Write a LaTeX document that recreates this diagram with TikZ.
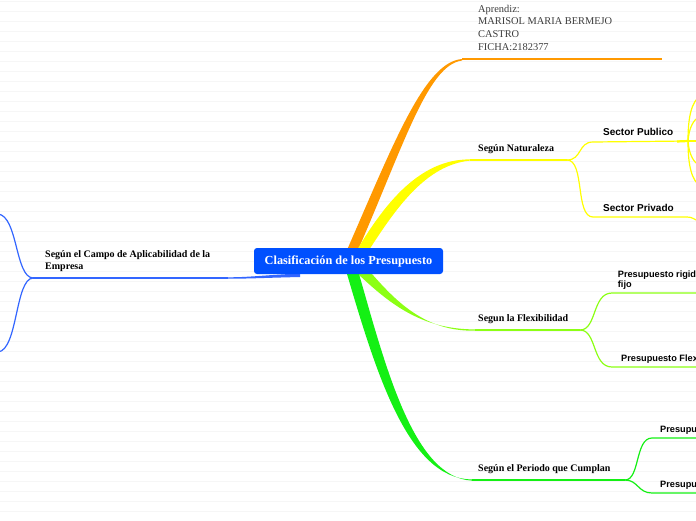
\documentclass[tikz,border=0pt]{standalone}
\usepackage{fontspec}
\setmainfont{Liberation Serif}
\setsansfont{Liberation Sans}
\usetikzlibrary{calc}
\definecolor{nodeblue}{RGB}{0,80,255}
\definecolor{brblue}{RGB}{51,102,255}
\definecolor{brorange}{RGB}{255,153,0}
\definecolor{bryellow}{RGB}{255,255,0}
\definecolor{brlime}{RGB}{140,255,20}
\definecolor{brgreen}{RGB}{20,240,20}
\definecolor{ruleline}{RGB}{246,246,246}
\definecolor{infogray}{RGB}{60,60,60}
\tikzset{
  brline/.style={line width=1.2pt},
  lbl/.style={anchor=base west, inner sep=0pt, text=black, font=\bfseries\fontsize{10}{12}\selectfont},
  slbl/.style={anchor=base west, inner sep=0pt, text=black, font=\sffamily\bfseries\fontsize{9.2}{10}\selectfont},
  seclbl/.style={anchor=base west, inner sep=0pt, text=black, font=\sffamily\bfseries\fontsize{10}{12}\selectfont},
  rootbox/.style={rounded corners=3pt, fill=nodeblue, text=white, inner sep=0pt,
    minimum width=189pt, minimum height=26pt, font=\bfseries\fontsize{12.3}{14}\selectfont},
}
\begin{document}
\begin{tikzpicture}[x=1pt,y=-1pt]
\useasboundingbox (0,0) rectangle (696,520);
\clip (0,0) rectangle (696,520);
\fill[white] (0,0) rectangle (696,520);
\foreach \yy in {1.7,11.7,...,521.7} \draw[ruleline, line width=0.8pt] (0,\yy) -- (696,\yy);

% coordinates
\coordinate (info) at (462,59);
\coordinate (infoE) at (662,59);
\coordinate (nat) at (470,160);
\coordinate (natE) at (567,160);
\coordinate (pub) at (593,142);
\coordinate (pubE) at (688,141);
\coordinate (priv) at (593,217);
\coordinate (privE) at (687,217);
\coordinate (flx) at (475,330);
\coordinate (flxE) at (580,330);
\coordinate (rig) at (612,293);
\coordinate (flex) at (612,367);
\coordinate (per) at (472,480);
\coordinate (perE) at (625,480);
\coordinate (per1) at (652,438);
\coordinate (per2) at (652,493);
\coordinate (cam) at (228,278);
\coordinate (camE) at (33,278);

% tapered main branches
\fill[brorange] (347,250) .. controls (395,140) and (425,62) .. (info)
  -- ++(0,1.5) .. controls (428,65) and (405,142) .. (358,250) -- cycle;
\fill[bryellow] (357,250) .. controls (385,203) and (420,159) .. ($(nat)+(0,-0.6)$)
  -- ($(nat)+(0,0.6)$) .. controls (425,165) and (395,210) .. (369,250) -- cycle;
\fill[brlime] (358,274) .. controls (388,302) and (420,329.4) .. ($(flx)+(0,-0.6)$)
  -- ($(flx)+(0,0.6)$) .. controls (425,332) and (395,300) .. (372,274) -- cycle;
\fill[brgreen] (347,274) .. controls (376,372) and (408,479.4) .. ($(per)+(0,-0.6)$)
  -- ($(per)+(0,0.6)$) .. controls (414,478) and (386,368) .. (359,274) -- cycle;
\fill[brblue] (300,273.5) .. controls (265,275) and (250,277.3) .. ($(cam)+(0,-0.7)$)
  -- ($(cam)+(0,0.7)$) .. controls (250,278.7) and (265,277.8) .. (300,277) -- cycle;

% thin connectors
\draw[brline, brorange] (info) -- (infoE);
\draw[brline, bryellow] (nat) -- (natE);
\draw[brline, bryellow] (natE) .. controls (582,160) and (578,142) .. (pub) -- (pubE);
\draw[line width=2.2pt, bryellow] (677,141.5) -- (pubE);
\draw[brline, bryellow] (natE) .. controls (585,160) and (575,217) .. (priv) -- (privE);
\draw[brline, bryellow] (privE) .. controls (692,217) and (694,219) .. (700,222);
\draw[brline, bryellow] (pubE) -- (700,141);
\draw[brline, bryellow] (pubE) .. controls (688,115) and (692,102) .. (700,96);
\draw[brline, bryellow] (pubE) .. controls (689,128) and (693,120) .. (700,116);
\draw[brline, bryellow] (pubE) .. controls (689,154) and (693,162) .. (700,166);
\draw[brline, bryellow] (pubE) .. controls (688,167) and (692,180) .. (700,186);

\draw[brline, brlime] (flx) -- (flxE);
\draw[brline, brlime] (flxE) .. controls (597,330) and (592,293) .. (rig) -- (700,293);
\draw[brline, brlime] (flxE) .. controls (597,330) and (592,367) .. (flex) -- (700,367);

\draw[brline, brgreen] (per) -- (perE);
\draw[brline, brgreen] (perE) .. controls (640,480) and (635,438) .. (per1) -- (700,438);
\draw[brline, brgreen] (perE) .. controls (638,480) and (638,493) .. (per2) -- (700,493);

\draw[line width=1.6pt, brblue] (cam) -- (camE);
\draw[brline, brblue] (camE) .. controls (15,277) and (18,216) .. (-2,214);
\draw[brline, brblue] (camE) .. controls (15,279) and (18,350) .. (-2,352);

% root
\node[rootbox] (root) at (348.5,261) {Clasificación de los Presupuesto};

% labels
\node[anchor=north west, inner sep=0pt, align=left, text=infogray,
  font=\fontsize{10.4}{12.6}\selectfont] (infotext) at (478,4.8) {Aprendiz:\\MARISOL MARIA BERMEJO\\CASTRO\\FICHA:2182377};
\node[lbl] (natl) at (478,151.7) {Según Naturaleza};
\node[seclbl] (publ) at (603,135.7) {Sector Publico};
\node[seclbl] (privl) at (603,211.7) {Sector Privado};
\node[lbl] (flxl) at (478,321.7) {Segun la Flexibilidad};
\node[anchor=north west, inner sep=0pt, align=left, text=black,
  font=\sffamily\bfseries\fontsize{9.2}{10}\selectfont] (rigl) at (617.7,270.3) {Presupuesto rigido o\\fijo};
\node[slbl] (flexl) at (621,361.7) {Presupuesto Flexible};
\node[lbl] (perl) at (478,471.7) {Según el Periodo que Cumplan};
\node[slbl] (per1l) at (660,432.7) {Presupuesto a corto plazo};
\node[slbl] (per2l) at (660,487.3) {Presupuesto a largo plazo};
\node[anchor=north west, inner sep=0pt, align=left, text=black,
  font=\bfseries\fontsize{10}{12}\selectfont] (caml) at (45,250.2) {Según el Campo de Aplicabilidad de la\\Empresa};
\end{tikzpicture}
\end{document}
